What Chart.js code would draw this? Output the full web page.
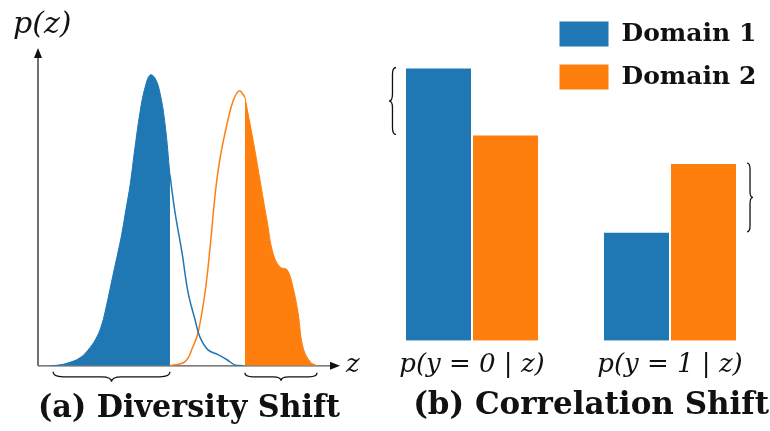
<!DOCTYPE html>
<html>
<head>
<meta charset="utf-8">
<script src="https://cdn.jsdelivr.net/npm/chart.js@4.4.0/dist/chart.umd.min.js"></script>
<style>
  html, body { margin: 0; padding: 0; background: #fff; }
  #wrap { position: relative; width: 770px; height: 431px; }
  #left { position: absolute; left: 0; top: 0; }
  #right { position: absolute; left: 370px; top: 0; }
</style>
</head>
<body>
<div id="wrap">
  <canvas id="left" width="370" height="431"></canvas>
  <canvas id="right" width="400" height="431"></canvas>
</div>
<script>
// (a) p(z) for the two domains, split where the shaded part ends
const blueFillX = [0.40, 0.73, 0.96, 1.39, 1.72, 1.95, 2.12, 2.25, 2.38, 2.52, 2.65, 2.78, 2.91, 3.05, 3.21, 3.38, 3.54, 3.71, 3.87, 4.04, 4.21, 4.37];
const blueFillY = [0, 0.003, 0.008, 0.025, 0.057, 0.091, 0.132, 0.182, 0.239, 0.302, 0.358, 0.418, 0.491, 0.569, 0.686, 0.799, 0.874, 0.915, 0.906, 0.858, 0.758, 0.600];
const blueLineX = [4.37, 4.54, 4.77, 4.97, 5.20, 5.36, 5.63, 5.96, 6.26, 6.52, 6.79];
const blueLineY = [0.600, 0.481, 0.355, 0.230, 0.145, 0.091, 0.050, 0.035, 0.019, 0.003, 0];
const orangeLineX = [4.37, 4.87, 5.13, 5.30, 5.53, 5.70, 5.83, 5.93, 6.03, 6.13, 6.26, 6.46, 6.66, 6.85];
const orangeLineY = [0, 0.013, 0.060, 0.104, 0.230, 0.374, 0.506, 0.591, 0.654, 0.704, 0.761, 0.833, 0.865, 0.846];
const orangeFillX = [6.85, 7.12, 7.35, 7.58, 7.78, 8.01, 8.25, 8.44, 8.61, 8.77, 9.01, 9.24];
const orangeFillY = [0.846, 0.711, 0.585, 0.459, 0.355, 0.311, 0.302, 0.248, 0.167, 0.060, 0.013, 0];

// (b) p(y|z) per domain
const categories = ['p(y = 0 | z)', 'p(y = 1 | z)'];
const domain1 = [0.715, 0.285];
const domain2 = [0.54, 0.465];

const BLUE = '#1f77b4';
const ORANGE = '#ff7f0e';
const INK = '#111111';

const toPoints = (xs, ys) => xs.map((x, i) => ({x: x, y: ys[i]}));

// curly brace from (x1,y1) to (x2,y2), tip sticking out d px to the left of the direction
function brace(ctx, x1, y1, x2, y2, d) {
  const len = Math.hypot(x2 - x1, y2 - y1);
  const ux = (x2 - x1) / len, uy = (y2 - y1) / len;
  const nx = -uy, ny = ux;
  const p = (s, t) => [x1 + ux * s + nx * t, y1 + uy * s + ny * t];
  const h = len / 2, r = Math.min(d, h / 2);
  ctx.beginPath();
  ctx.moveTo(...p(0, 0));
  ctx.quadraticCurveTo(...p(0, d / 2), ...p(r, d / 2));
  ctx.lineTo(...p(h - r, d / 2));
  ctx.quadraticCurveTo(...p(h, d / 2), ...p(h, d));
  ctx.quadraticCurveTo(...p(h, d / 2), ...p(h + r, d / 2));
  ctx.lineTo(...p(len - r, d / 2));
  ctx.quadraticCurveTo(...p(len, d / 2), ...p(len, 0));
  ctx.stroke();
}

const axesA = {
  id: 'axesA',
  beforeDatasetsDraw(chart) {
    const {ctx, chartArea: a} = chart;
    ctx.save();
    ctx.strokeStyle = INK;
    ctx.fillStyle = INK;
    ctx.lineWidth = 1.2;
    ctx.beginPath();
    ctx.moveTo(a.left, a.bottom);
    ctx.lineTo(a.left, a.top + 6);
    ctx.stroke();
    ctx.beginPath();
    ctx.moveTo(a.left, a.top);
    ctx.lineTo(a.left - 4, a.top + 10);
    ctx.lineTo(a.left + 4, a.top + 10);
    ctx.closePath();
    ctx.fill();
    ctx.strokeStyle = '#555';
    ctx.beginPath();
    ctx.moveTo(a.left, a.bottom);
    ctx.lineTo(a.right - 6, a.bottom);
    ctx.stroke();
    ctx.beginPath();
    ctx.moveTo(a.right, a.bottom);
    ctx.lineTo(a.right - 10, a.bottom - 4);
    ctx.lineTo(a.right - 10, a.bottom + 4);
    ctx.closePath();
    ctx.fill();
    ctx.textAlign = 'left';
    ctx.textBaseline = 'middle';
    ctx.font = 'italic 30px "DejaVu Serif"';
    ctx.fillText('p(z)', 13, 25);
    ctx.font = 'italic 26px "DejaVu Serif"';
    ctx.fillText('z', a.right + 6, a.bottom - 1);
    ctx.restore();
  },
  afterDatasetsDraw(chart) {
    const {ctx, chartArea: a, scales} = chart;
    ctx.save();
    ctx.strokeStyle = INK;
    ctx.lineWidth = 1.3;
    const x = scales.x;
    brace(ctx, x.getPixelForValue(blueFillX[0]) + 3, a.bottom + 6,
      x.getPixelForValue(blueFillX[blueFillX.length - 1]), a.bottom + 6, 10);
    brace(ctx, x.getPixelForValue(orangeFillX[0]), a.bottom + 7,
      x.getPixelForValue(orangeFillX[orangeFillX.length - 1]), a.bottom + 7, 8);
    ctx.restore();
  }
};

new Chart(document.getElementById('left'), {
  type: 'line',
  data: {
    datasets: [
      {data: toPoints(blueFillX, blueFillY), borderColor: BLUE, backgroundColor: BLUE, fill: 'origin', borderWidth: 1},
      {data: toPoints(blueLineX, blueLineY), borderColor: BLUE, borderWidth: 1.5, fill: false},
      {data: toPoints(orangeLineX, orangeLineY), borderColor: ORANGE, borderWidth: 1.5, fill: false},
      {data: toPoints(orangeFillX, orangeFillY), borderColor: ORANGE, backgroundColor: ORANGE, fill: 'origin', borderWidth: 1}
    ]
  },
  options: {
    responsive: false,
    animation: false,
    layout: {padding: {left: 38, right: 30, top: 48, bottom: 3}},
    elements: {point: {radius: 0}, line: {tension: 0.4}},
    scales: {
      x: {type: 'linear', min: 0, max: 10, display: false},
      y: {min: 0, max: 1, display: false}
    },
    plugins: {
      legend: {display: false},
      tooltip: {enabled: false},
      title: {
        display: true, position: 'bottom', text: '(a) Diversity Shift', color: INK,
        font: {family: 'DejaVu Serif', size: 31, weight: 'bold'},
        padding: {top: 25, bottom: 0}
      }
    }
  },
  plugins: [axesA]
});

// legend sits inside the plot, top right
const moveLegend = {
  id: 'moveLegend',
  afterLayout(chart) {
    const lg = chart.legend;
    const w = lg.width, h = lg.height;
    lg.left = 172;
    lg.top = 4;
    lg.right = lg.left + w;
    lg.bottom = lg.top + h;
  }
};

const bracesB = {
  id: 'bracesB',
  afterDatasetsDraw(chart) {
    const {ctx, scales} = chart;
    const y = scales.y;
    const b0 = chart.getDatasetMeta(0).data[0];
    const o1 = chart.getDatasetMeta(1).data[1];
    ctx.save();
    ctx.strokeStyle = INK;
    ctx.lineWidth = 1.3;
    const xl = b0.x - b0.width / 2 - 9;
    brace(ctx, xl, y.getPixelForValue(domain1[0]), xl, y.getPixelForValue(domain2[0]), 7);
    const xr = o1.x + o1.width / 2 + 10;
    brace(ctx, xr, y.getPixelForValue(domain1[1]), xr, y.getPixelForValue(domain2[1]), 6);
    ctx.restore();
  }
};

new Chart(document.getElementById('right'), {
  type: 'bar',
  data: {
    labels: categories,
    datasets: [
      {label: 'Domain 1', data: domain1, backgroundColor: BLUE, borderColor: '#ffffff', borderWidth: 1},
      {label: 'Domain 2', data: domain2, backgroundColor: ORANGE, borderColor: '#ffffff', borderWidth: 1}
    ]
  },
  options: {
    responsive: false,
    animation: false,
    layout: {padding: {left: 3, right: 1, top: 35, bottom: 6}},
    datasets: {bar: {categoryPercentage: 0.677, barPercentage: 1}},
    scales: {
      x: {
        grid: {display: false, drawTicks: false},
        border: {display: false},
        ticks: {padding: 9, color: INK, font: {family: 'DejaVu Serif', style: 'italic', size: 26}},
        afterFit(s) { s.height = 44; }
      },
      y: {display: false, min: 0, max: 0.8}
    },
    plugins: {
      legend: {
        position: 'chartArea', align: 'start',
        labels: {boxWidth: 50, boxHeight: 26, padding: 17, color: INK,
          font: {family: 'DejaVu Serif', weight: 'bold', size: 25}}
      },
      tooltip: {enabled: false},
      title: {
        display: true, position: 'bottom', align: 'end', text: '(b) Correlation Shift', color: INK,
        font: {family: 'DejaVu Serif', size: 31, weight: 'bold'},
        padding: {top: 3, bottom: 0}
      }
    }
  },
  plugins: [moveLegend, bracesB]
});
</script>
</body>
</html>
